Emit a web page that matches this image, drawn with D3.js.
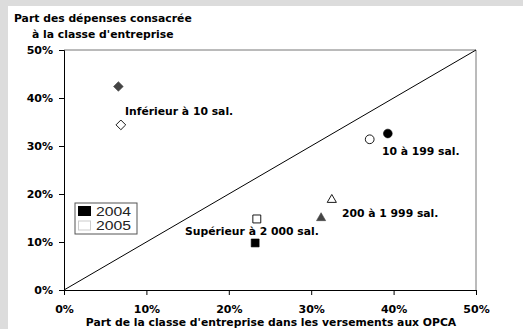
<!DOCTYPE html>
<html><head><meta charset="utf-8">
<script src="https://cdn.jsdelivr.net/npm/d3@7"></script>
<style>body{margin:0;background:#dcdcdc}svg{display:block}</style>
</head><body>
<script>
// Share of contributions paid to OPCA (x) vs share of spending (y), by company size class
const classes = ["Inférieur à 10 sal.", "10 à 199 sal.", "200 à 1 999 sal.", "Supérieur à 2 000 sal."];
const shapes = ["diamond", "circle", "triangle", "square"];
const x2004 = [0.066, 0.393, 0.312, 0.232];
const y2004 = [0.424, 0.326, 0.150, 0.098];
const x2005 = [0.069, 0.371, 0.325, 0.234];
const y2005 = [0.344, 0.314, 0.188, 0.148];
const years = ["2004", "2005"];
const ticks = [0, 0.1, 0.2, 0.3, 0.4, 0.5];

const W = 523, H = 329;
const svg = d3.select("body").append("svg").attr("width", W).attr("height", H);
svg.append("rect").attr("x", 8).attr("y", 6).attr("width", W - 8).attr("height", H - 6).attr("fill", "#fff");

const x = d3.scaleLinear().domain([0, 0.5]).range([64, 476]);
const y = d3.scaleLinear().domain([0, 0.5]).range([290, 50]);
const fmt = d3.format(".0%");
const font = "DejaVu Sans, Verdana, sans-serif";
const fs = 10.8;

// frame: top and right borders
svg.append("line").attr("x1", x(0)).attr("x2", x(0.5)).attr("y1", y(0.5)).attr("y2", y(0.5)).attr("stroke", "#777");
svg.append("line").attr("x1", x(0.5)).attr("x2", x(0.5)).attr("y1", y(0.5)).attr("y2", y(0)).attr("stroke", "#777");

const xAxis = svg.append("g").attr("transform", `translate(0,${y(0)})`)
  .call(d3.axisBottom(x).tickValues(ticks).tickFormat(fmt).tickSize(5).tickPadding(10));
const yAxis = svg.append("g").attr("transform", `translate(${x(0)},0)`)
  .call(d3.axisLeft(y).tickValues(ticks).tickFormat(fmt).tickSize(5).tickPadding(6));
[xAxis, yAxis].forEach(g => {
  g.select(".domain").attr("stroke", "#000");
  g.selectAll(".tick line").attr("stroke", "#000");
  g.selectAll("text").attr("font-family", font).attr("font-weight", "bold").attr("font-size", 11).attr("fill", "#000");
});

// diagonal y = x
svg.append("line").attr("x1", x(0)).attr("y1", y(0)).attr("x2", x(0.5)).attr("y2", y(0.5))
  .attr("stroke", "#000").attr("stroke-width", 1);

const sym = {
  diamond: d3.symbol().type(d3.symbolDiamond2).size(60),
  circle: d3.symbol().type(d3.symbolCircle).size(60),
  triangle: d3.symbol().type(d3.symbolTriangle2).size(60),
  square: d3.symbol().type(d3.symbolSquare2).size(80)
};
const fill2004 = ["#444", "#000", "#444", "#000"];

classes.forEach((c, i) => {
  svg.append("path").attr("d", sym[shapes[i]]())
    .attr("transform", `translate(${x(x2005[i])},${y(y2005[i])})`)
    .attr("fill", "#fff").attr("stroke", "#000").attr("stroke-width", 0.9);
  svg.append("path").attr("d", sym[shapes[i]]())
    .attr("transform", `translate(${x(x2004[i])},${y(y2004[i])})`)
    .attr("fill", fill2004[i]).attr("stroke", fill2004[i]).attr("stroke-width", 0.6);
});

// class labels
const labelPos = [[125, 115], [382, 155], [342, 217], [185, 235]];
classes.forEach((c, i) => {
  svg.append("text").attr("x", labelPos[i][0]).attr("y", labelPos[i][1])
    .attr("font-family", font).attr("font-weight", "bold").attr("font-size", fs).text(c);
});

// titles
svg.append("text").attr("x", 14).attr("y", 22).attr("font-family", font).attr("font-weight", "bold")
  .attr("font-size", fs).text("Part des dépenses consacrée");
svg.append("text").attr("x", 32).attr("y", 38).attr("font-family", font).attr("font-weight", "bold")
  .attr("font-size", fs).text("à la classe d'entreprise");
svg.append("text").attr("x", 271).attr("y", 326).attr("text-anchor", "middle").attr("font-family", font)
  .attr("font-weight", "bold").attr("font-size", fs).text("Part de la classe d'entreprise dans les versements aux OPCA");

// legend
const lg = svg.append("g").attr("transform", "translate(75,203)");
lg.append("rect").attr("width", 62).attr("height", 31).attr("fill", "#fff").attr("stroke", "#555");
years.forEach((yr, i) => {
  lg.append("rect").attr("x", 3.5).attr("y", 3.5 + i * 14.5).attr("width", 12).attr("height", 9)
    .attr("fill", i === 0 ? "#000" : "#fff").attr("stroke", i === 0 ? "#000" : "#ccc");
  lg.append("text").attr("x", 21).attr("y", 12.5 + i * 14.5).attr("font-family", "Liberation Sans, Arial, sans-serif")
    .attr("font-size", 12.5).attr("fill", "#222")
    .attr("textLength", 35).attr("lengthAdjust", "spacingAndGlyphs").text(yr);
});
</script>
</body></html>
